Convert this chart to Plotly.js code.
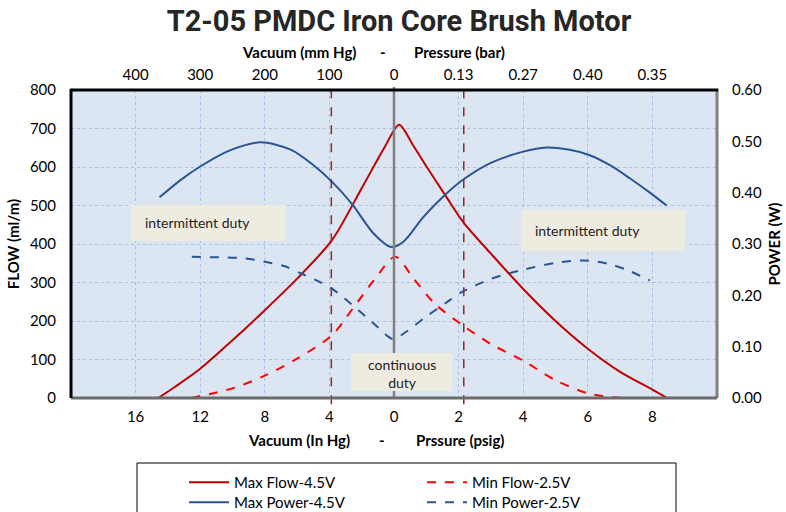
<!DOCTYPE html>
<html>
<head>
<meta charset="utf-8">
<script src="https://cdn.plot.ly/plotly-3.0.1.min.js"></script>
<style>html,body{margin:0;padding:0;background:#fff;}#chart{width:786px;height:512px;}</style>
</head>
<body>
<div id="chart"></div>
<script>
// Category positions (index along the shared x scale) and tick labels
const tickPos = [1, 2, 3, 4, 5, 6, 7, 8, 9];
const bottomLabels = ['16', '12', '8', '4', '0', '2', '4', '6', '8'];
const topLabels = ['400', '300', '200', '100', '0', '0.13', '0.27', '0.40', '0.35'];
const flowTicks = [0, 100, 200, 300, 400, 500, 600, 700, 800];
const powerTicks = [0, 0.1, 0.2, 0.3, 0.4, 0.5, 0.6];

// Series (x = position on the index scale)
const maxFlowX = [1.35, 1.6, 2.0, 2.5, 3.0, 3.5, 4.04, 4.5, 4.85, 5.08, 5.3, 5.5, 5.8, 6.08, 6.5, 7.0, 7.5, 8.0, 8.5, 9.0, 9.23];
const maxFlowY = [0, 28, 76, 150, 228, 310, 410, 545, 650, 710, 655, 602, 525, 455, 375, 283, 200, 128, 68, 22, 0];

const minFlowX = [1.86, 2.5, 3.0, 3.5, 4.04, 4.36, 4.69, 5.02, 5.3, 5.63, 6.06, 6.5, 7.0, 7.5, 8.0, 8.4, 8.82];
const minFlowY = [0, 25, 58, 102, 163, 232, 306, 367, 311, 245, 189, 140, 97, 46, 12, 2, 0];

const maxPowerX = [1.37, 1.7, 2.0, 2.45, 2.93, 3.4, 3.75, 4.05, 4.36, 4.68, 4.96, 5.15, 5.45, 5.8, 6.1, 6.5, 7.0, 7.36, 7.7, 8.03, 8.35, 8.65, 8.95, 9.22];
const maxPowerY = [0.391, 0.425, 0.451, 0.482, 0.498, 0.484, 0.454, 0.420, 0.376, 0.321, 0.294, 0.305, 0.352, 0.397, 0.428, 0.458, 0.480, 0.488, 0.484, 0.473, 0.453, 0.428, 0.401, 0.375];

const minPowerX = [1.87, 2.3, 2.7, 2.98, 3.3, 3.55, 3.8, 4.04, 4.45, 4.75, 4.98, 5.2, 5.46, 5.8, 6.06, 6.5, 7.0, 7.5, 7.93, 8.3, 8.6, 8.96];
const minPowerY = [0.275, 0.274, 0.272, 0.266, 0.257, 0.243, 0.229, 0.213, 0.171, 0.138, 0.115, 0.130, 0.155, 0.185, 0.207, 0.232, 0.250, 0.263, 0.268, 0.262, 0.250, 0.229];

// Duty limit markers (index positions of 4 inHg vacuum and 2 psig pressure) and centre (0)
const dutyLimitX = [4.03, 6.08];
const centreX = 5;

const FONT = 'Lato, "Liberation Sans", sans-serif';
const RED = '#c00000', RED2 = '#ff0000', BLUE = '#2a5592';

const traces = [
  {x: maxFlowX, y: maxFlowY, name: 'Max Flow-4.5V', legend: 'legend', mode: 'lines', line: {color: RED, width: 2, shape: 'spline', smoothing: 0.8}, xaxis: 'x', yaxis: 'y'},
  {x: minFlowX, y: minFlowY, name: 'Min Flow-2.5V', legend: 'legend', mode: 'lines', line: {color: RED2, width: 2, dash: 'dash', shape: 'spline', smoothing: 0.8}, xaxis: 'x', yaxis: 'y'},
  {x: maxPowerX, y: maxPowerY, name: 'Max Power-4.5V', legend: 'legend2', mode: 'lines', line: {color: BLUE, width: 2, shape: 'spline', smoothing: 0.8}, xaxis: 'x2', yaxis: 'y2'},
  {x: minPowerX, y: minPowerY, name: 'Min Power-2.5V', legend: 'legend2', mode: 'lines', line: {color: BLUE, width: 2, dash: 'dash', shape: 'spline', smoothing: 0.8}, xaxis: 'x2', yaxis: 'y2'}
];

const W = 646, H = 308, L = 71, T = 90;
const px = v => (v - L) / W;
const py = v => (T + H - v) / H;

const gridStyle = {gridcolor: '#a4c2ea', griddash: 'dot', gridwidth: 1};

const shapes = [];
dutyLimitX.forEach(xv => shapes.push({type: 'line', xref: 'x', yref: 'paper', x0: xv, x1: xv, y0: -0.02, y1: 1.028, line: {color: '#8b2a2a', width: 1.5, dash: 'dash'}, layer: 'above'}));
shapes.push({type: 'line', xref: 'x', yref: 'paper', x0: centreX, x1: centreX, y0: 0, y1: 1.01, line: {color: '#808080', width: 2.5}, layer: 'above'});
// duty boxes
const boxes = [[131, 286, 205, 241], [521, 685, 210, 251], [351, 452, 353, 391]];
boxes.forEach(b => shapes.push({type: 'rect', xref: 'paper', yref: 'paper', x0: px(b[0]), x1: px(b[1]), y0: py(b[3]), y1: py(b[2]), fillcolor: '#eeece1', line: {width: 0}, layer: 'above'}));
// frame
shapes.push({type: 'line', xref: 'paper', yref: 'paper', x0: 1, x1: 1, y0: 0, y1: 1, line: {color: '#7f7f7f', width: 3}, layer: 'above'});
shapes.push({type: 'line', xref: 'paper', yref: 'paper', x0: 0, x1: 1, y0: 0, y1: 0, line: {color: '#6b6b6b', width: 3}, layer: 'above'});
shapes.push({type: 'line', xref: 'paper', yref: 'paper', x0: 0, x1: 1.002, y0: 1, y1: 1, line: {color: '#000', width: 3}, layer: 'above'});
shapes.push({type: 'line', xref: 'paper', yref: 'paper', x0: 0, x1: 0, y0: 0, y1: 1.004, line: {color: '#000', width: 3}, layer: 'above'});
// legend frame
shapes.push({type: 'rect', xref: 'paper', yref: 'paper', x0: px(137), x1: px(676), y0: py(514), y1: py(463), line: {color: '#000', width: 1}, fillcolor: 'rgba(0,0,0,0)'});

const tf = {family: FONT, size: 15, color: '#000'};
const bold = {family: FONT, size: 15, color: '#000', weight: 'bold'};
const annotations = [
  {text: '<b>Vacuum (mm Hg)</b>', x: px(299), y: py(52)},
  {text: '<b>-</b>', x: px(383), y: py(52)},
  {text: '<b>Pressure (bar)</b>', x: px(459), y: py(52)},
  {text: '<b>Vacuum (In Hg)</b>', x: px(299), y: py(440)},
  {text: '<b>-</b>', x: px(382), y: py(440)},
  {text: '<b>Prssure (psig)</b>', x: px(460), y: py(440)}
].map(a => Object.assign({xref: 'paper', yref: 'paper', showarrow: false, xanchor: 'center', yanchor: 'middle', font: bold}, a));
annotations.push({text: 'intermittent duty', xref: 'paper', yref: 'paper', x: px(143), y: py(223), xanchor: 'left', yanchor: 'middle', showarrow: false, font: {family: FONT, size: 14, color: '#222'}});
annotations.push({text: 'intermittent duty', xref: 'paper', yref: 'paper', x: px(533), y: py(230), xanchor: 'left', yanchor: 'middle', showarrow: false, font: {family: FONT, size: 14, color: '#222'}});
annotations.push({text: 'continuous<br>duty', xref: 'paper', yref: 'paper', x: px(402), y: py(373), xanchor: 'center', yanchor: 'middle', showarrow: false, align: 'center', font: {family: FONT, size: 14, color: '#222'}});

const legendBase = {orientation: 'h', x: px(184), xanchor: 'left', yanchor: 'top', entrywidth: 183, entrywidthmode: 'pixels', itemwidth: 40, bgcolor: 'rgba(0,0,0,0)', borderwidth: 0, font: {family: FONT, size: 15, color: '#000'}, traceorder: 'normal'};

const layout = {
  width: 786, height: 512,
  margin: {l: L, r: 786 - L - W, t: T, b: 512 - T - H, autoexpand: false},
  paper_bgcolor: '#ffffff', plot_bgcolor: '#dce6f2',
  font: {family: FONT, size: 14, color: '#000'},
  title: {text: '<b>T2-05 PMDC Iron Core Brush Motor</b>', x: 399 / 786, xanchor: 'center', y: 1 - 21 / 512, yanchor: 'middle', yref: 'container', font: {family: 'Roboto, sans-serif', size: 29, color: '#262626'}},
  xaxis: Object.assign({range: [0, 10], tickvals: tickPos, ticktext: bottomLabels, showgrid: true, zeroline: false, showline: false, ticks: '', tickfont: tf, ticklabelstandoff: 8, fixedrange: true, automargin: false}, gridStyle),
  xaxis2: {range: [0, 10], overlaying: 'x', side: 'top', anchor: 'y', tickvals: tickPos, ticktext: topLabels, showgrid: false, zeroline: false, showline: false, ticks: '', tickfont: tf, ticklabelstandoff: 6, automargin: false},
  yaxis: Object.assign({range: [0, 800], tickvals: flowTicks, showgrid: true, zeroline: false, showline: false, ticks: '', tickfont: tf, ticklabelstandoff: 14, automargin: false, title: {text: '<b>FLOW (ml/m)</b>', font: {family: FONT, size: 15, color: '#000'}, standoff: 6}}, gridStyle),
  yaxis2: {range: [0, 0.6], overlaying: 'y', side: 'right', anchor: 'x', tickvals: powerTicks, tickformat: '.2f', showgrid: false, zeroline: false, showline: false, ticks: '', tickfont: tf, ticklabelstandoff: 14, automargin: false, title: {text: '<b>POWER (W)</b>', font: {family: FONT, size: 15, color: '#000'}, standoff: 8}},
  showlegend: true,
  legend: Object.assign({}, legendBase, {y: py(466)}),
  legend2: Object.assign({}, legendBase, {y: py(486)}),
  shapes: shapes,
  annotations: annotations
};

Plotly.newPlot('chart', traces, layout, {displayModeBar: false, staticPlot: true});
</script>
</body>
</html>
